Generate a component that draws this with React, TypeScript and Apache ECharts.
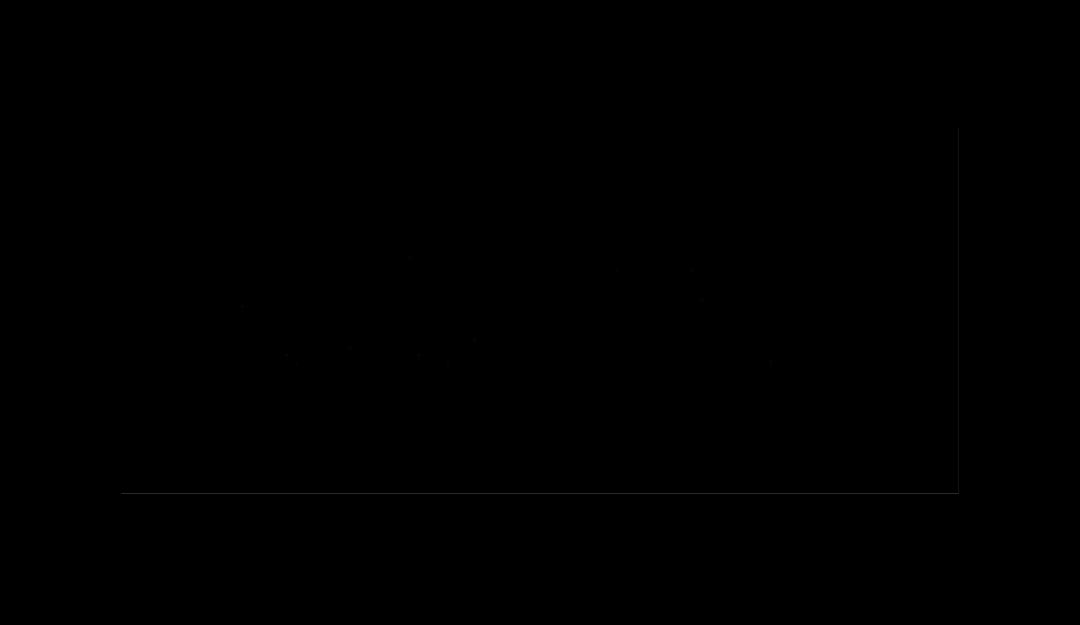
import React, { useEffect, useRef } from "react";
import * as echarts from "echarts";

// Faint marks read from the (almost entirely dark) reference
const pointX = [14.4, 19.7, 20.9, 27.3, 34.4, 34.2, 35.5, 39.0, 42.2, 59.2, 68.1, 69.4, 77.6];
const pointY = [51.0, 37.8, 35.6, 39.7, 64.4, 40.8, 37.8, 35.6, 41.9, 61.1, 61.1, 52.9, 35.9];

export default function App() {
  const ref = useRef<HTMLDivElement>(null);
  useEffect(() => {
    document.body.style.margin = "0";
    document.body.style.background = "#000";
    if (!ref.current) return;
    const chart = echarts.init(ref.current, undefined, { renderer: "svg" });
    const data = pointX.map((x, i) => [x, pointY[i]]);
    chart.setOption({
      animation: false,
      backgroundColor: "#000",
      grid: { left: 122, right: 122, top: 128, bottom: 132 },
      xAxis: {
        type: "value",
        min: 0,
        max: 100,
        axisLine: { show: true, onZero: false, lineStyle: { color: "#2a2a2a", width: 1 } },
        axisTick: { show: false },
        axisLabel: { show: false },
        splitLine: { show: false },
      },
      yAxis: {
        type: "value",
        position: "right",
        min: 0,
        max: 100,
        axisLine: { show: true, onZero: false, lineStyle: { color: "#121212", width: 1 } },
        axisTick: { show: false },
        axisLabel: { show: false },
        splitLine: { show: false },
      },
      series: [
        {
          type: "scatter",
          data,
          symbolSize: 3,
          itemStyle: { color: "#080808" },
        },
      ],
    });
    return () => chart.dispose();
  }, []);
  return <div ref={ref} style={{ width: 1080, height: 625, background: "#000" }} />;
}
